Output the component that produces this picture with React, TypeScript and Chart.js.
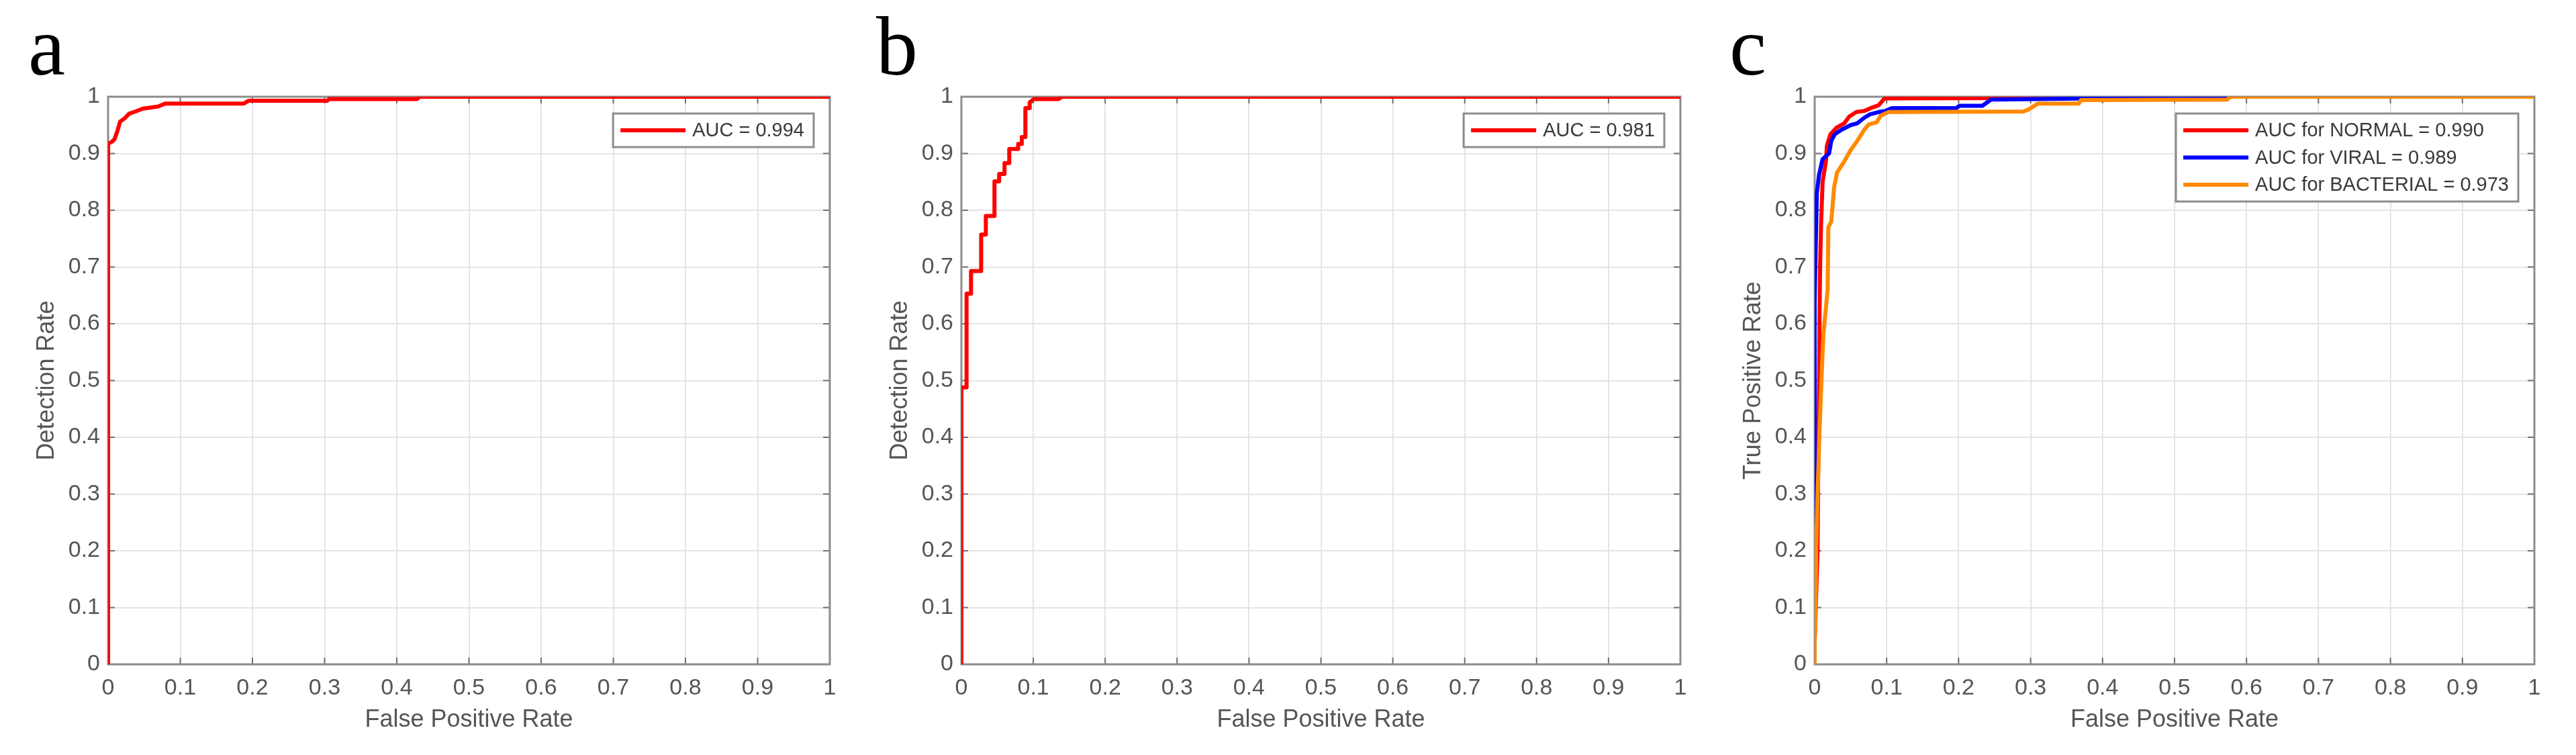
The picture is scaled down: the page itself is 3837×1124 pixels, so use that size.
import React, { useEffect, useRef } from 'react';
import { Chart, registerables } from 'chart.js';

Chart.register(...registerables);

// ---------- data ----------
const tickValues = [0, 0.1, 0.2, 0.3, 0.4, 0.5, 0.6, 0.7, 0.8, 0.9, 1];
const tickLabels = ['0', '0.1', '0.2', '0.3', '0.4', '0.5', '0.6', '0.7', '0.8', '0.9', '1'];

const panelLetters = ['a', 'b', 'c'];
const xAxisTitle = 'False Positive Rate';
const yAxisTitles = ['Detection Rate', 'Detection Rate', 'True Positive Rate'];

// panel a
const aLabel = 'AUC = 0.994';
const aFpr = [0, 0, 0.0056, 0.0088, 0.013, 0.0166, 0.023, 0.029, 0.038, 0.048, 0.06, 0.07, 0.079, 0.188, 0.195, 0.304, 0.306, 0.428, 0.432, 1];
const aTpr = [0, 0.917, 0.921, 0.925, 0.94, 0.956, 0.962, 0.97, 0.974, 0.979, 0.981, 0.983, 0.988, 0.988, 0.993, 0.993, 0.996, 0.996, 1, 1];

// panel b
const bLabel = 'AUC = 0.981';
const bFpr = [0, 0, 0.0072, 0.0072, 0.0134, 0.0134, 0.0275, 0.0275, 0.034, 0.034, 0.046, 0.046, 0.0525, 0.0525, 0.06, 0.06, 0.0666, 0.0666, 0.079, 0.079, 0.084, 0.084, 0.089, 0.089, 0.095, 0.095, 0.101, 0.135, 0.14, 1];
const bTpr = [0, 0.488, 0.488, 0.653, 0.653, 0.693, 0.693, 0.757, 0.757, 0.79, 0.79, 0.851, 0.851, 0.864, 0.864, 0.883, 0.883, 0.908, 0.908, 0.917, 0.917, 0.929, 0.929, 0.98, 0.98, 0.99, 0.996, 0.996, 1, 1];

// panel c
const cNormalLabel = 'AUC for NORMAL = 0.990';
const cNormalFpr = [0, 0, 0.002, 0.004, 0.005, 0.0062, 0.0068, 0.0075, 0.009, 0.011, 0.0156, 0.017, 0.022, 0.03, 0.041, 0.048, 0.058, 0.069, 0.08, 0.089, 0.097, 0.36, 0.362, 1];
const cNormalTpr = [0, 0.04, 0.12, 0.2, 0.36, 0.5, 0.62, 0.7, 0.78, 0.85, 0.886, 0.914, 0.934, 0.945, 0.953, 0.965, 0.973, 0.975, 0.981, 0.985, 0.997, 0.998, 1, 1];

const cViralLabel = 'AUC for VIRAL = 0.989';
const cViralFpr = [0, 0, 0.0015, 0.003, 0.006, 0.011, 0.02, 0.023, 0.028, 0.0375, 0.05, 0.059, 0.069, 0.077, 0.089, 0.098, 0.108, 0.197, 0.201, 0.233, 0.245, 0.385, 0.39, 1];
const cViralTpr = [0, 0.64, 0.74, 0.83, 0.862, 0.89, 0.9, 0.922, 0.934, 0.942, 0.95, 0.953, 0.963, 0.969, 0.973, 0.975, 0.98, 0.98, 0.984, 0.984, 0.995, 0.997, 1, 1];

const cBacterialLabel = 'AUC for BACTERIAL = 0.973';
const cBacterialFpr = [0, 0, 0.001, 0.002, 0.004, 0.007, 0.01, 0.012, 0.015, 0.018, 0.019, 0.023, 0.027, 0.031, 0.041, 0.05, 0.058, 0.069, 0.075, 0.086, 0.092, 0.103, 0.29, 0.298, 0.31, 0.367, 0.37, 0.573, 0.578, 1];
const cBacterialTpr = [0, 0.06, 0.06, 0.2, 0.3, 0.42, 0.52, 0.58, 0.62, 0.66, 0.77, 0.78, 0.84, 0.866, 0.886, 0.906, 0.92, 0.942, 0.951, 0.955, 0.967, 0.973, 0.974, 0.978, 0.988, 0.988, 0.994, 0.995, 1, 1];

// ---------- styling / layout ----------
const RED = '#ff0000';
const BLUE = '#0000ff';
const ORANGE = '#ff8a00';
const SANS = '"Liberation Sans", Arial, Helvetica, sans-serif';
const SERIF = '"Liberation Serif", "Times New Roman", serif';

const PAGE_H = 1124;
const PLOT_TOP = 144;
const PLOT_BOTTOM = 989;
const Y_AXIS_W = 161;

interface Geom { left: number; width: number; plotRight: number; letterX: number }
const geoms: Geom[] = [
  { left: 0, width: 1271, plotRight: 1236, letterX: 42 },
  { left: 1271, width: 1271, plotRight: 2503, letterX: 1305 },
  { left: 2542, width: 1295, plotRight: 3775, letterX: 2576 },
];

interface Series { label: string; color: string; fpr: number[]; tpr: number[]; order: number }

const panelSeries: Series[][] = [
  [{ label: aLabel, color: RED, fpr: aFpr, tpr: aTpr, order: 0 }],
  [{ label: bLabel, color: RED, fpr: bFpr, tpr: bTpr, order: 0 }],
  [
    { label: cNormalLabel, color: RED, fpr: cNormalFpr, tpr: cNormalTpr, order: 2 },
    { label: cViralLabel, color: BLUE, fpr: cViralFpr, tpr: cViralTpr, order: 1 },
    { label: cBacterialLabel, color: ORANGE, fpr: cBacterialFpr, tpr: cBacterialTpr, order: 0 },
  ],
];

function RocPanel({ geom, letter, yTitle, series }: { geom: Geom; letter: string; yTitle: string; series: Series[] }) {
  const ref = useRef<HTMLCanvasElement | null>(null);

  useEffect(() => {
    const canvas = ref.current;
    if (!canvas) return;

    const framePlugin = {
      id: 'matlabFrame',
      beforeDatasetsDraw(chart: any) {
        const { ctx, chartArea, scales } = chart;
        const { left, right, top, bottom } = chartArea;
        const xs = scales.x;
        const ys = scales.y;
        ctx.save();
        ctx.strokeStyle = '#707070';
        ctx.lineWidth = 2;
        for (const v of tickValues) {
          const px = xs.getPixelForValue(v);
          ctx.beginPath();
          ctx.moveTo(px, bottom);
          ctx.lineTo(px, bottom - 10);
          ctx.moveTo(px, top);
          ctx.lineTo(px, top + 10);
          ctx.stroke();
          const py = ys.getPixelForValue(v);
          ctx.beginPath();
          ctx.moveTo(left, py);
          ctx.lineTo(left + 10, py);
          ctx.moveTo(right, py);
          ctx.lineTo(right - 10, py);
          ctx.stroke();
        }
        ctx.strokeStyle = '#8c8c8c';
        ctx.lineWidth = 3;
        ctx.strokeRect(left, top, right - left, bottom - top);
        ctx.restore();
      },
      afterDraw(chart: any) {
        const { ctx, chartArea } = chart;
        const datasets = chart.data.datasets;
        ctx.save();
        // legend box
        ctx.font = `29px ${SANS}`;
        let maxW = 0;
        for (const ds of datasets) maxW = Math.max(maxW, ctx.measureText(ds.label).width);
        const padL = 11;
        const lineLen = 97;
        const gap = 10;
        const padR = 14;
        const rowH = 40.5;
        const boxW = padL + lineLen + gap + maxW + padR;
        const boxH = 50 + (datasets.length - 1) * rowH;
        const boxR = chartArea.right - 24;
        const boxT = chartArea.top + 25;
        const boxL = boxR - boxW;
        ctx.fillStyle = '#ffffff';
        ctx.fillRect(boxL, boxT, boxW, boxH);
        ctx.strokeStyle = '#8c8c8c';
        ctx.lineWidth = 3;
        ctx.strokeRect(boxL, boxT, boxW, boxH);
        datasets.forEach((ds: any, i: number) => {
          const cy = boxT + 25 + i * rowH;
          ctx.strokeStyle = ds.borderColor;
          ctx.lineWidth = 6;
          ctx.beginPath();
          ctx.moveTo(boxL + padL, cy);
          ctx.lineTo(boxL + padL + lineLen, cy);
          ctx.stroke();
          ctx.fillStyle = '#3a3a3a';
          ctx.textBaseline = 'middle';
          ctx.textAlign = 'left';
          ctx.fillText(ds.label, boxL + padL + lineLen + gap, cy + 1);
        });
        // panel letter
        ctx.fillStyle = '#000000';
        ctx.font = `124px ${SERIF}`;
        ctx.textBaseline = 'alphabetic';
        ctx.textAlign = 'left';
        ctx.fillText(letter, geom.letterX - geom.left, 111);
        ctx.restore();
      },
    };

    const tickFont = { family: SANS, size: 34 };
    const titleFont = { family: SANS, size: 36 };
    const gridOpts = { color: '#e4e4e4', lineWidth: 2, drawTicks: false };

    const chart = new Chart(canvas, {
      type: 'line',
      data: {
        datasets: series.map((s) => ({
          label: s.label,
          data: s.fpr.map((x, i) => ({ x, y: s.tpr[i] })),
          borderColor: s.color,
          backgroundColor: s.color,
          borderWidth: 6,
          pointRadius: 0,
          pointHoverRadius: 0,
          tension: 0,
          fill: false,
          borderJoinStyle: 'round' as const,
          borderCapStyle: 'round' as const,
          order: s.order,
        })),
      },
      options: {
        animation: false,
        responsive: false,
        maintainAspectRatio: false,
        devicePixelRatio: 1,
        parsing: true,
        events: [],
        layout: {
          padding: { top: PLOT_TOP, bottom: 0, left: 0, right: geom.width - (geom.plotRight - geom.left) },
        },
        plugins: {
          legend: { display: false },
          tooltip: { enabled: false },
          title: { display: false },
        },
        scales: {
          x: {
            type: 'linear',
            min: 0,
            max: 1,
            afterBuildTicks: (scale: any) => {
              scale.ticks = tickValues.map((v) => ({ value: v }));
            },
            afterFit: (scale: any) => {
              scale.height = PAGE_H - PLOT_BOTTOM;
            },
            ticks: {
              autoSkip: false,
              maxRotation: 0,
              minRotation: 0,
              padding: 15,
              color: '#555555',
              font: tickFont,
              callback: (_v: any, i: number) => tickLabels[i],
            },
            grid: gridOpts,
            border: { display: false },
            title: {
              display: true,
              text: xAxisTitle,
              color: '#555555',
              font: titleFont,
              padding: { top: 0, bottom: 30 },
            },
          },
          y: {
            type: 'linear',
            min: 0,
            max: 1,
            afterBuildTicks: (scale: any) => {
              scale.ticks = tickValues.map((v) => ({ value: v }));
            },
            afterFit: (scale: any) => {
              scale.width = Y_AXIS_W;
            },
            ticks: {
              autoSkip: false,
              padding: 12,
              color: '#555555',
              font: tickFont,
              callback: (_v: any, i: number) => tickLabels[i],
            },
            grid: gridOpts,
            border: { display: false },
            title: {
              display: true,
              text: yTitle,
              color: '#555555',
              font: titleFont,
              padding: { top: 48, bottom: 0 },
            },
          },
        },
      } as any,
      plugins: [framePlugin],
    });

    return () => chart.destroy();
  }, [geom, letter, yTitle, series]);

  return (
    <canvas
      ref={ref}
      width={geom.width}
      height={PAGE_H}
      style={{ position: 'absolute', left: geom.left, top: 0, width: geom.width, height: PAGE_H }}
    />
  );
}

export default function App() {
  return (
    <div style={{ position: 'absolute', left: 0, top: 0, width: 3837, height: PAGE_H, background: '#ffffff', overflow: 'hidden' }}>
      {geoms.map((g, i) => (
        <RocPanel key={i} geom={g} letter={panelLetters[i]} yTitle={yAxisTitles[i]} series={panelSeries[i]} />
      ))}
    </div>
  );
}
